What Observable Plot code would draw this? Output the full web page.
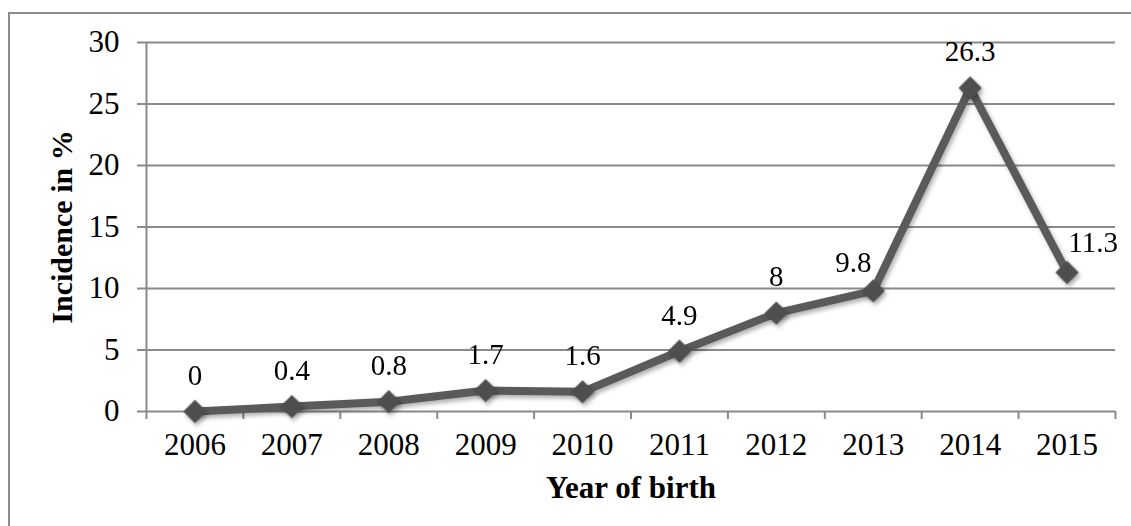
<!DOCTYPE html>
<html>
<head>
<meta charset="utf-8">
<script src="https://cdn.jsdelivr.net/npm/d3@7"></script>
<script src="https://cdn.jsdelivr.net/npm/@observablehq/plot@0.6"></script>
<style>
  html, body { margin: 0; padding: 0; background: #fff; overflow: hidden; }
  #wrap { position: relative; width: 1131px; height: 526px; }
  #frame { position: absolute; left: 8px; top: 12px; width: 1130px; height: 600px; border: 2px solid #8c8c8c; box-sizing: border-box; pointer-events: none; }
  #chart { position: absolute; left: 0; top: 0; }
  #chart svg text { font-family: 'Liberation Serif', 'Times New Roman', serif; }
  #chart svg g[aria-label="line"], #chart svg g[aria-label="dot"] { filter: drop-shadow(2px 3px 2px rgba(0,0,0,0.3)); }
</style>
</head>
<body>
<div id="wrap"><div id="frame"></div><div id="chart"></div></div>
<script>
const years = ["2006","2007","2008","2009","2010","2011","2012","2013","2014","2015"];
const incidence = [0, 0.4, 0.8, 1.7, 1.6, 4.9, 8, 9.8, 26.3, 11.3];
const valueLabels = ["0","0.4","0.8","1.7","1.6","4.9","8","9.8","26.3","11.3"];
const yTicks = [0, 5, 10, 15, 20, 25, 30];
const xTitle = "Year of birth";
const yTitle = "Incidence in %";

const data = years.map((y, i) => ({year: y, i, pos: i + 0.5, v: incidence[i], label: valueLabels[i]}));
const last = years.length - 1;
const font = "'Liberation Serif', 'Times New Roman', serif";
const grid = "#8a8a8a";
const fs = 31;
const lfs = 29;

const chart = Plot.plot({
  width: 1131,
  height: 526,
  marginLeft: 146,
  marginRight: 16,
  marginTop: 42,
  marginBottom: 115,
  style: {fontFamily: font, fontSize: fs + "px", color: "#000", background: "transparent", overflow: "visible"},
  x: {type: "linear", domain: [0, years.length], axis: null},
  y: {domain: [0, 30], axis: null},
  marks: [
    Plot.ruleY(yTicks, {stroke: grid, strokeWidth: 2}),
    Plot.ruleX([0], {stroke: grid, strokeWidth: 2}),
    Plot.axisY(yTicks, {tickSize: 9, tickPadding: 18, stroke: grid, strokeWidth: 2, label: null, fontSize: fs, fill: "#000"}),
    Plot.axisX(d3.range(0, years.length + 1), {tickSize: 8, tickFormat: () => "", stroke: grid, strokeWidth: 2, label: null}),
    Plot.text(data, {x: "pos", y: 0, text: "year", dy: 34, fontSize: fs, fill: "#000"}),
    Plot.line(data, {x: "pos", y: "v", stroke: "#5a5a5a", strokeWidth: 8, strokeLinejoin: "miter"}),
    Plot.dot(data, {x: "pos", y: "v", symbol: "diamond2", r: 10.5, fill: "#4e4e4e", stroke: "none"}),
    Plot.text(data.filter(d => d.i !== 7 && d.i !== last), {x: "pos", y: "v", text: "label", fontSize: lfs, fill: "#000", dy: -36}),
    Plot.text(data.filter(d => d.i === 7), {x: "pos", y: "v", text: "label", fontSize: lfs, fill: "#000", dx: -20, dy: -28}),
    Plot.text(data.filter(d => d.i === last), {x: "pos", y: "v", text: "label", fontSize: lfs, fill: "#000", dx: 26, dy: -30}),
    Plot.text([xTitle], {frameAnchor: "bottom", dy: 86, fontSize: fs, fontWeight: "bold", fill: "#000"}),
    Plot.text([yTitle], {frameAnchor: "left", textAnchor: "middle", dx: -84, rotate: -90, fontSize: fs - 1, fontWeight: "bold", fill: "#000"})
  ]
});

document.getElementById("chart").appendChild(chart);
</script>
</body>
</html>
